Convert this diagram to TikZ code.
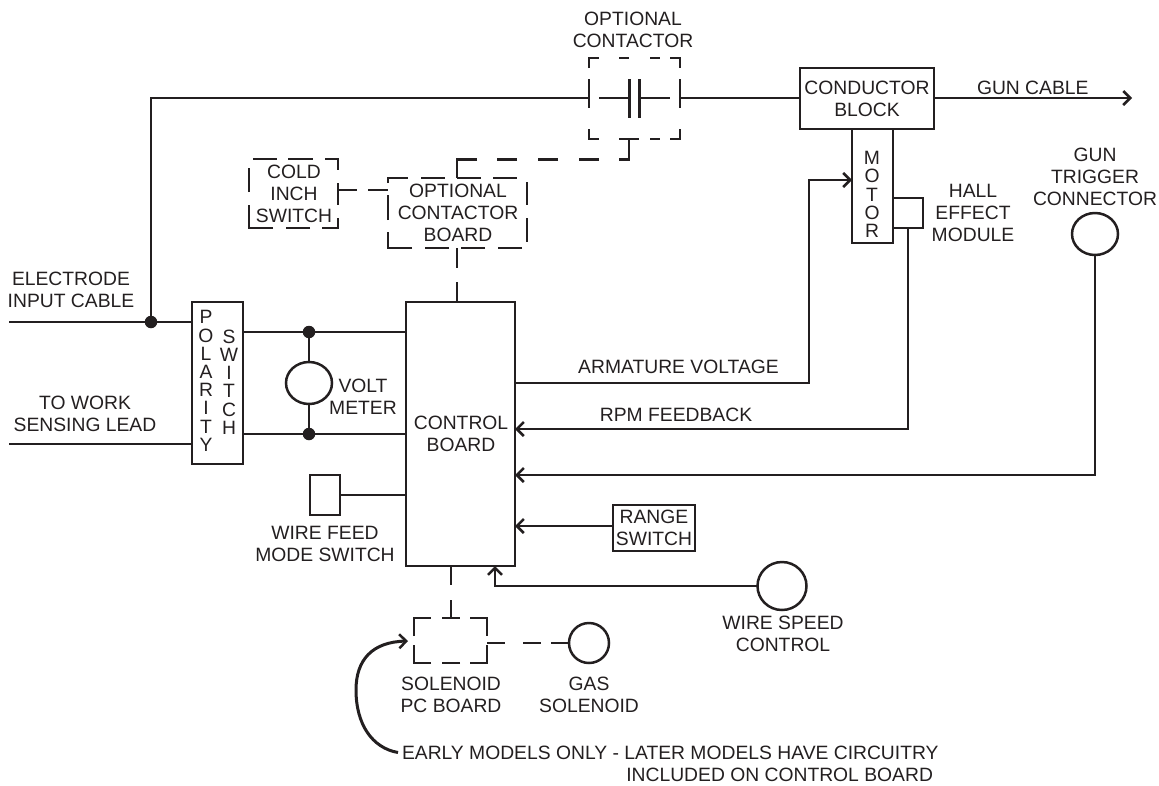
\documentclass[tikz,border=0pt]{standalone}
\usepackage{fontspec}
\setmainfont{Liberation Sans}
\usetikzlibrary{arrows.meta,shapes.geometric}
\definecolor{ink}{HTML}{231F20}
\tikzset{
  every node/.style={inner sep=0pt,outer sep=0pt,text=ink},
  wire/.style={draw=ink,line width=2.5pt,line cap=butt},
  arr/.style={wire,-{Straight Barb[length=7pt,width=14pt,line width=2.5pt]}},
  box/.style={draw=ink,line width=2.5pt,rectangle},
  lab/.style={font=\fontsize{19.3}{22}\selectfont,align=center},
  vert/.style={font=\fontsize{19.3}{18.2}\selectfont,align=center},
  meter/.style={draw=ink,line width=2.5pt,ellipse},
  jdot/.style={circle,fill=ink,minimum size=12.5pt},
  hold/.style={rectangle},
}
\begin{document}
\begin{tikzpicture}[x=1pt,y=-1pt]
\useasboundingbox (0,0) rectangle (1159,785);
% boxes
\node[box,minimum width=109pt,minimum height=264pt] (ctrl) at (460.5,434) {};
\node[box,minimum width=51pt,minimum height=162pt] (pol) at (217.5,383) {};
\node[box,minimum width=134pt,minimum height=61pt] (block) at (867,98.5) {};
\node[box,minimum width=41pt,minimum height=114pt] (motor) at (872.5,186) {};
\node[box,minimum width=30pt,minimum height=30pt] (hall) at (908,213) {};
\node[box,minimum width=30pt,minimum height=40pt] (mode) at (325,495) {};
\node[box,minimum width=82pt,minimum height=46pt] (range) at (654,528) {};
\node[hold,minimum width=91pt,minimum height=81pt] (cont) at (634.5,98.5) {};
\node[hold,minimum width=89pt,minimum height=69pt] (cold) at (293.5,193.5) {};
\node[hold,minimum width=139pt,minimum height=70pt] (oboard) at (457.5,213) {};
\node[hold,minimum width=73pt,minimum height=45pt] (sol) at (450.5,640.5) {};
% meters
\node[meter,minimum width=46pt,minimum height=42pt] (volt) at (309,383) {};
\node[meter,minimum width=46pt,minimum height=42pt] (trig) at (1095,234) {};
\node[meter,minimum width=49pt,minimum height=48pt] (speed) at (782,586) {};
\node[meter,minimum width=40pt,minimum height=40pt] (gas) at (589,643) {};
% free ends and junctions
\coordinate (ein) at (9,322);
\coordinate (win) at (9,444);
\coordinate (gunend) at (1132,98);
\node[jdot] (j0) at (151,322) {};
\node[jdot] (j1) at (309,332) {};
\node[jdot] (j2) at (309,434) {};
\coordinate (pl1) at (589,98);
\coordinate (pl2) at (680,98);
% solid wires
\draw[wire] (ein) -- (pol.west |- ein);
\draw[wire] (win) -- (pol.west |- win);
\draw[wire] (j0.center) -- (151,98) -- (pl1);
\draw[wire] (pl2) -- (block.west |- pl2);
\draw[wire] (599,98) -- (629.5,98);
\draw[wire] (639.5,98) -- (670,98);
\draw[wire] (629.5,79) -- (629.5,118);
\draw[wire] (639.5,79) -- (639.5,118);
\draw[wire] (pol.east |- j1) -- (ctrl.west |- j1);
\draw[wire] (pol.east |- j2) -- (ctrl.west |- j2);
\draw[wire] (j1.center) -- (volt.north);
\draw[wire] (j2.center) -- (volt.south);
\draw[wire] (mode.east) -- (ctrl.west |- mode);
\draw[arr] (block.east |- gunend) -- (gunend);
\draw[arr] (ctrl.east |- 0,383) -- (809,383) -- (809,180) -- (motor.west |- 0,180);
\draw[arr] (hall.south) -- (908,429) -- (ctrl.east |- 0,429);
\draw[arr] (trig.south) -- (1095,475) -- (ctrl.east |- 0,475);
\draw[arr] (range.west |- 0,526) -- (ctrl.east |- 0,526);
\draw[arr] (speed.west) -- (495,586) -- (ctrl.south -| 495,0);
\draw[arr,line width=3pt] (398,752.5) .. controls (372,748) and (356,724) .. (356,690) .. controls (356,660) and (372,642) .. (408,641);
% dashed contactor
\draw[wire,line cap=butt]
  (589,68) -- (589,58) -- (599,58) (619,58) -- (629,58) (650,58) -- (660,58) (670,58) -- (680,58) -- (680,68)
  (589,79) -- (589,108) (680,79) -- (680,108)
  (589,129) -- (589,139) -- (599,139) (619,139) -- (639,139) (650,139) -- (660,139) (670,139) -- (680,139) -- (680,129);
% dashed link contactor to board
\draw[wire] (629,139) -- (629,159.5) -- (619,159.5) (599,159.5) -- (579,159.5) (558,159.5) -- (538,159.5) (517,159.5) -- (497,159.5) (477,159.5) -- (457,159.5) -- (457,178);
% dashed cold inch
\draw[wire]
  (253,159) -- (277,159) (288,159) -- (313,159) (325,159) -- (338,159) -- (338,170)
  (338,183) -- (338,205) (338,218) -- (338,228) -- (322,228)
  (310,228) -- (286,228) (273,228) -- (249,228) -- (249,205) (249,192) -- (249,168);
% dashed optional contactor board
\draw[wire]
  (388,183) -- (388,178) -- (408,178) (421,178) -- (445,178) (457,178) -- (481,178) (493,178) -- (517,178)
  (527,182) -- (527,205) (527,218) -- (527,242)
  (522,248) -- (498,248) (485,248) -- (461,248) (449,248) -- (425,248) (412,248) -- (388,248) -- (388,232) (388,220) -- (388,195);
% dashed links
\draw[wire] (cold.east |- 0,190) -- (357,190) (368,190) -- (oboard.west |- 0,190);
\draw[wire] (oboard.south -| 457,0) -- (457,268) (457,282) -- (ctrl.north -| 457,0);
\draw[wire] (ctrl.south -| 451,0) -- (451,585) (451,600) -- (451,618);
% dashed solenoid
\draw[wire]
  (414,636) -- (414,618) -- (431,618) (442,618) -- (460,618) (470,618) -- (487,618) -- (487,636)
  (487,645) -- (487,663) -- (470,663) (460,663) -- (442,663) (431,663) -- (414,663) -- (414,645);
\draw[wire] (sol.east |- gas) -- (505,643) (523,643) -- (541,643) (551,643) -- (gas.west);
% labels
\node[lab] (t1) at (633,30) {OPTIONAL\\CONTACTOR};
\node[lab] (t2) at (867,99) {CONDUCTOR\\BLOCK};
\node[lab,anchor=west] (t3) at (977,88) {GUN CABLE};
\node[lab] (t4) at (294,193.5) {COLD\\INCH\\SWITCH};
\node[lab] (t5) at (458,213) {OPTIONAL\\CONTACTOR\\BOARD};
\node[lab] (t6) at (1095,176.5) {GUN\\TRIGGER\\CONNECTOR};
\node[lab] (t7) at (973,213) {HALL\\EFFECT\\MODULE};
\node[vert] (t8) at (872,194.5) {M\\O\\T\\O\\R};
\node[vert] (t9) at (206,381) {P\\O\\L\\A\\R\\I\\T\\Y};
\node[vert] (t10) at (229,382) {S\\W\\I\\T\\C\\H};
\node[lab] (t11) at (71,290) {ELECTRODE\\INPUT CABLE};
\node[lab] (t12) at (85,414) {TO WORK\\SENSING LEAD};
\node[lab] (t13) at (363,397) {VOLT\\METER};
\node[lab] (t14) at (461,434) {CONTROL\\BOARD};
\node[lab] (t15) at (678.5,367) {ARMATURE VOLTAGE};
\node[lab] (t16) at (676,415) {RPM FEEDBACK};
\node[lab] (t17) at (654,528) {RANGE\\SWITCH};
\node[lab] (t18) at (325,544) {WIRE FEED\\MODE SWITCH};
\node[lab] (t19) at (783,634) {WIRE SPEED\\CONTROL};
\node[lab] (t20) at (451,695) {SOLENOID\\PC BOARD};
\node[lab] (t21) at (589,695) {GAS\\SOLENOID};
\node[lab,anchor=west] (t22) at (402,753) {EARLY MODELS ONLY - LATER MODELS HAVE CIRCUITRY};
\node[lab,anchor=east] (t23) at (933,775) {INCLUDED ON CONTROL BOARD};
\end{tikzpicture}
\end{document}
